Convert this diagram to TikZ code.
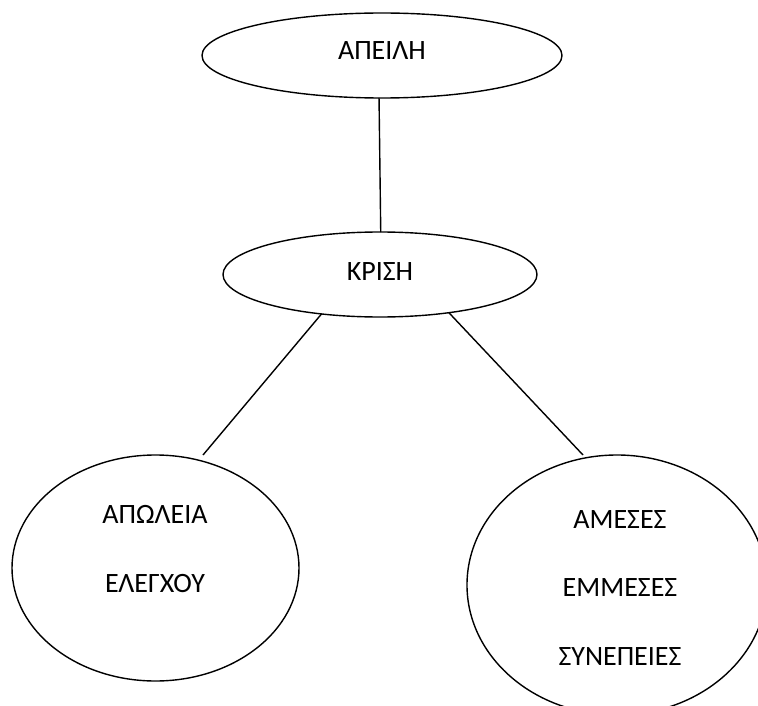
\documentclass[tikz,border=0pt]{standalone}
\usepackage{fontspec}
\setmainfont{Carlito}
\usetikzlibrary{shapes.geometric}
\begin{document}
\begin{tikzpicture}[x=1pt,y=-1pt,
  oval/.style={draw=black,line width=1.4pt,ellipse,inner sep=0pt,outer sep=0pt},
  lbl/.style={inner sep=0pt,align=center,font=\fontsize{28}{68.5}\selectfont},
  link/.style={draw=black,line width=1.4pt}]
\useasboundingbox (0,0) rectangle (758,706);
\clip (0,0) rectangle (758,706);
\node[oval,minimum width=360pt,minimum height=85pt] (apeili) at (382,55.5) {};
\node[oval,minimum width=314pt,minimum height=85pt] (krisi) at (380,274.5) {};
\node[oval,minimum width=287pt,minimum height=226pt] (apoleia) at (155.5,568) {};
\node[oval,minimum width=300pt,minimum height=260pt] (sinepeies) at (617,585) {};
\node[lbl] (t1) at (382,51) {ΑΠΕΙΛΗ};
\node[lbl] (t2) at (380,272) {ΚΡΙΣΗ};
\node[lbl] (t3) at (155,549) {ΑΠΩΛΕΙΑ\\ΕΛΕΓΧΟΥ};
\node[lbl] (t4) at (620,588) {ΑΜΕΣΕΣ\\ΕΜΜΕΣΕΣ\\ΣΥΝΕΠΕΙΕΣ};
\coordinate (e2) at (203,455);
\coordinate (e3) at (583,455);
\draw[link] (apeili.266) -- (krisi.89);
\draw[link] (krisi.214) -- (e2);
\draw[link] (krisi.331) -- (e3);
\end{tikzpicture}
\end{document}
